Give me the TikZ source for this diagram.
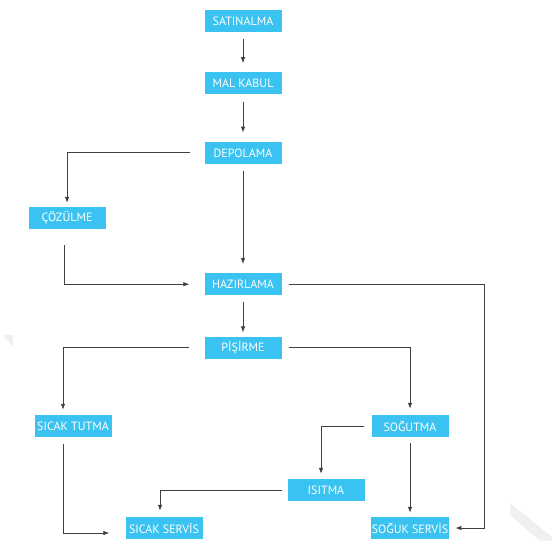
\documentclass[tikz,border=0pt]{standalone}
\usepackage{fontspec}
\setmainfont{PT Sans}
\usepackage{xcolor}
\usepackage{tikz}
\usetikzlibrary{arrows.meta,positioning}
\definecolor{flowcyan}{RGB}{58,194,240}
\tikzset{
  flowpicture/.style={node distance=40pt and 60pt},
  flowbox/.style={fill=flowcyan, text=white, align=center, font=\fontsize{12}{14}\selectfont, inner sep=1pt, minimum height=22pt, minimum width=77pt},
  flowarrow/.style={-{Latex[length=6pt,width=4.5pt]}, line width=0.8pt, draw=black!75, shorten <=7pt, shorten >=6pt},
  flowshade/.style={fill=black!6, draw=none}
}
\begin{document}
\begin{tikzpicture}[flowpicture]
\useasboundingbox (0,0) rectangle (552pt,-541pt);
% faint corner marks
\fill[flowshade] (3pt,-335pt) -- (13pt,-335pt) -- (13pt,-347pt) -- cycle;
\fill[flowshade] (510pt,-503pt) -- (552pt,-537pt) -- (552pt,-541pt) -- (540pt,-541pt) -- (510pt,-515pt) -- cycle;
% main line
\node[flowbox] (sat) at (243pt,-21pt) {SATINALMA};
\node[flowbox, below=40pt of sat] (mal) {MAL KABUL};
\node[flowbox, below=47pt of mal] (dep) {DEPOLAMA};
\node[flowbox, below=109pt of dep] (haz) {HAZIRLAMA};
\node[flowbox, below=41pt of haz] (pis) {PİŞİRME};
% side boxes
\node[flowbox] (coz) at (67pt,-218pt) {ÇÖZÜLME};
\node[flowbox] (sictut) at (73pt,-426pt) {SICAK TUTMA};
\node[flowbox] (sog) at (410pt,-426pt) {SOĞUTMA};
\node[flowbox] (isi) at (326pt,-490pt) {ISITMA};
\node[flowbox] (sicser) at (164pt,-528pt) {SICAK SERVİS};
\node[flowbox] (sogser) at (410pt,-528pt) {SOĞUK SERVİS};
% connectors
\draw[flowarrow, shorten >=9pt] (sat) -- (mal);
\draw[flowarrow, shorten >=9pt] (mal) -- (dep);
\draw[flowarrow, shorten <=14pt, shorten >=4pt] (dep.west) -| (coz.north);
\draw[flowarrow, shorten >=9pt] (dep) -- (haz);
\draw[flowarrow, shorten <=16pt, shorten >=15pt] ([xshift=-3pt]coz.south) |- (haz.west);
\draw[flowarrow] (haz.east) -- ++(203pt,0) |- (sogser.east);
\draw[flowarrow, shorten >=4pt] (haz) -- (pis);
\draw[flowarrow, shorten <=15pt, shorten >=5pt] (pis.west) -| ([xshift=-10pt]sictut.north);
\draw[flowarrow] (pis.east) -| (sog.north);
\draw[flowarrow, shorten >=16pt] ([xshift=-10pt]sictut.south) |- ([yshift=-5pt]sicser.west);
\draw[flowarrow, shorten >=5pt] (sog.west) -| ([xshift=-5pt]isi.north);
\draw[flowarrow, shorten <=6pt, shorten >=4pt] (sog) -- (sogser);
\draw[flowarrow, shorten <=5pt] (isi.west) -| ([xshift=-4pt]sicser.north);
\end{tikzpicture}
\end{document}
